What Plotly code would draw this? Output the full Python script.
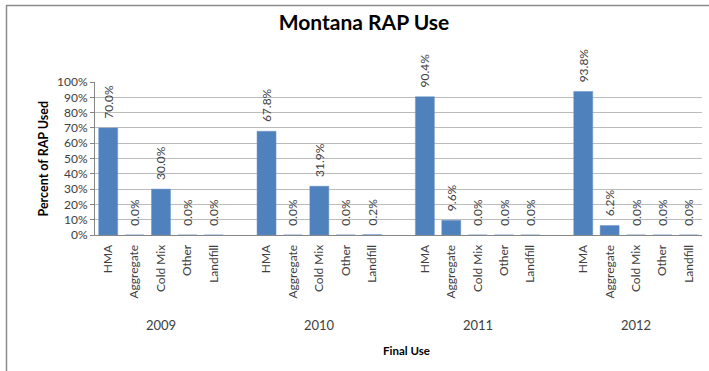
import plotly.graph_objects as go

years = ["2009", "2010", "2011", "2012"]
uses = ["HMA", "Aggregate", "Cold Mix", "Other", "Landfill"]
share_2009 = [0.700, 0.000, 0.300, 0.000, 0.000]
share_2010 = [0.678, 0.000, 0.319, 0.000, 0.002]
share_2011 = [0.904, 0.096, 0.000, 0.000, 0.000]
share_2012 = [0.938, 0.062, 0.000, 0.000, 0.000]
y_ticks = [0, 0.1, 0.2, 0.3, 0.4, 0.5, 0.6, 0.7, 0.8, 0.9, 1.0]

series = [share_2009, share_2010, share_2011, share_2012]
slot = len(uses) + 1  # one empty slot between year groups

xs, ys, labels = [], [], []
for g, vals in enumerate(series):
    for i, v in enumerate(vals):
        xs.append(g * slot + i)
        ys.append(v)
        labels.append(uses[i])

FONT = "Lato, Carlito, Calibri, sans-serif"

fig = go.Figure()
fig.add_trace(go.Bar(
    x=xs, y=ys,
    marker=dict(color="#4f81bd", line=dict(color="#6a95c9", width=0.5)),
    width=0.72,
    texttemplate="\u00a0\u00a0%{y:.1%}",
    textposition="outside",
    textangle=-90,
    constraintext="none",
    cliponaxis=False,
    textfont=dict(family=FONT, size=12, color="#404040"),
    hoverinfo="skip",
))

annotations = []
for g, yr in enumerate(years):
    annotations.append(dict(
        x=g * slot + (len(uses) - 1) / 2, y=(235 - 325) / 153, xref="x", yref="paper",
        text=yr, showarrow=False, xanchor="center", yanchor="middle",
        font=dict(family=FONT, size=13, color="#404040"),
    ))
annotations.append(dict(
    x=(406 - 95) / 607, y=(235 - 350) / 153, xref="paper", yref="paper",
    text="<b>Final Use</b>", showarrow=False, xanchor="center", yanchor="middle",
    font=dict(family=FONT, size=11.5, color="#000000"),
))
annotations.append(dict(
    x=(43 - 95) / 607, y=0.5, xref="paper", yref="paper",
    text="<b>Percent of RAP Used</b>", showarrow=False, textangle=-90,
    xanchor="center", yanchor="middle",
    font=dict(family=FONT, size=12.5, color="#000000"),
))

fig.update_layout(
    width=709, height=371,
    margin=dict(l=95, r=7, t=82, b=136, autoexpand=False),
    paper_bgcolor="white", plot_bgcolor="white",
    showlegend=False,
    title=dict(text="<b>Montana RAP Use</b>", x=364 / 709, xanchor="center",
               y=1 - 23 / 371, yanchor="middle",
               font=dict(family=FONT, size=21, color="#000000")),
    xaxis=dict(
        range=[-0.5, len(years) * slot - 1.5],
        tickmode="array", tickvals=xs, ticktext=labels, tickangle=-90,
        showgrid=False, zeroline=False, automargin=False,
        showline=True, linecolor="#868686", linewidth=1,
        ticks="", ticklabelstandoff=4,
        tickfont=dict(family=FONT, size=12, color="#404040"),
        fixedrange=True,
    ),
    yaxis=dict(
        range=[0, 1], automargin=False,
        tickmode="array", tickvals=y_ticks, tickformat=".0%",
        showgrid=True, gridcolor="#bcbcbc", gridwidth=1,
        zeroline=False,
        showline=True, linecolor="#868686", linewidth=1,
        ticks="outside", ticklen=4, tickcolor="#868686",
        tickfont=dict(family=FONT, size=12, color="#404040"),
        fixedrange=True,
    ),
    annotations=annotations,
    shapes=[dict(
        type="rect", xref="paper", yref="paper",
        x0=(6.5 - 95) / 607, x1=(720 - 95) / 607,
        y0=(235 - 400) / 153, y1=(235 - 5.5) / 153,
        line=dict(color="#8c8c8c", width=1.5), fillcolor="rgba(0,0,0,0)",
        layer="below",
    )],
)

fig.write_html(
    "out.html",
    config={"displayModeBar": False},
    post_script="document.body.style.margin='0';document.body.style.overflow='hidden';",
)
